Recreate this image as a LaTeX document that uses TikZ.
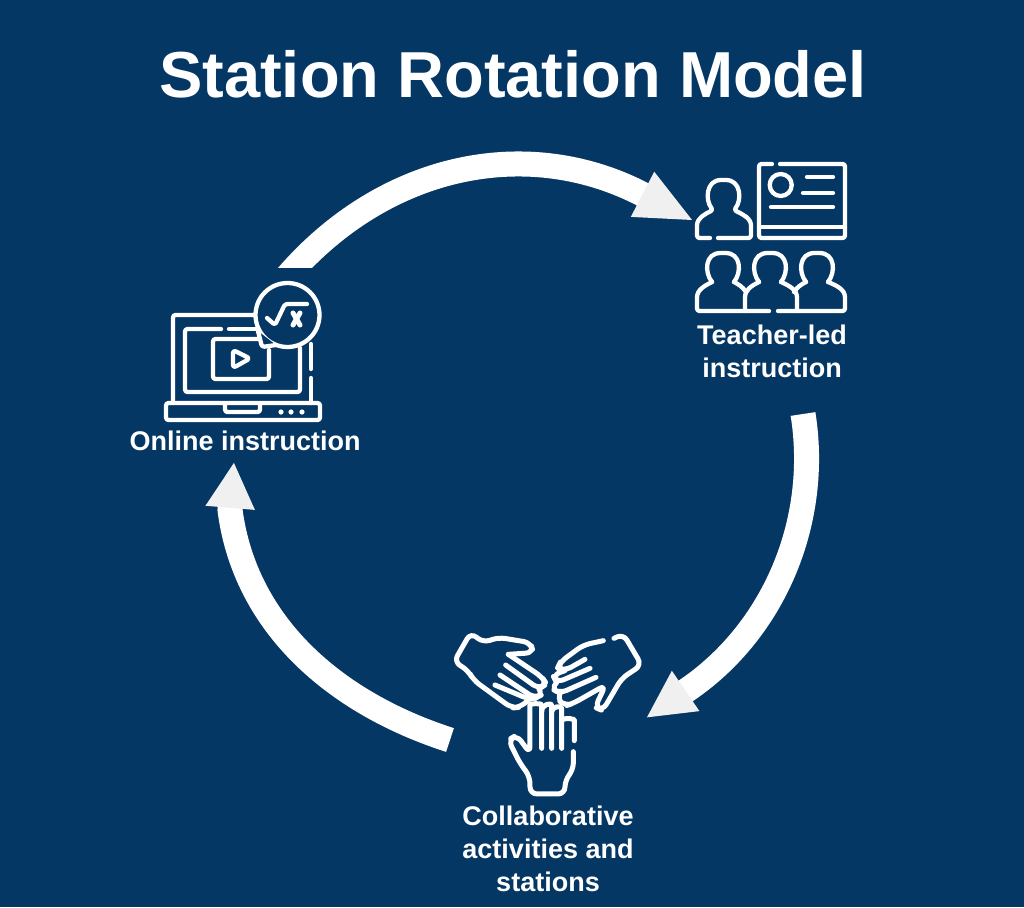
\documentclass[tikz,border=0pt]{standalone}
\usepackage{fontspec}
\setmainfont{Liberation Sans}
\usetikzlibrary{arrows.meta, positioning}
\definecolor{bgblue}{HTML}{053764}
\definecolor{tipgrey}{HTML}{F0F0F0}

\begin{document}
\begin{tikzpicture}[
    x=1pt, y=-1pt,
    stationlabel/.style={text=white, align=center, inner sep=0pt,
                  font=\bfseries\fontsize{27}{33}\selectfont},
    cycleline/.style={draw=white, line width=25pt},
    iconline/.style={draw=white, line width=4.3pt, rounded corners=2.5pt,
                  line cap=round, line join=round},
    handline/.style={iconline, line width=5pt, rounded corners=7pt}
]
\fill[bgblue] (0,0) rectangle (1024,907);
\node[text=white, inner sep=0pt, font=\bfseries\fontsize{65}{70}\selectfont] (title) at (513,74) {Station Rotation Model};
\node[stationlabel] (teacher) at (772,351) {Teacher-led\\instruction};
\node[stationlabel] (online) at (245,441) {Online instruction};
\node[stationlabel] (collab) at (548,849) {Collaborative\\activities and\\stations};

\coordinate (onlineout) at (285,279);
\coordinate (teacherbase) at (640,193);
\coordinate (teacherin) at (694,221);
\coordinate (teacherout) at (803,414);
\coordinate (collabbase) at (687,690);
\coordinate (collabin) at (646,718);
\coordinate (collabout) at (450,740);
\coordinate (onlinebase) at (230,510);
\coordinate (onlinein) at (234,462);

% the three arcs of the cycle
\begin{scope}
    \clip (0,0) rectangle (1024,267);
    \draw[cycleline, -{Triangle[length=58pt, width=46pt, color=tipgrey]}]
        (onlineout) .. controls (381,166) and (523,134) .. (teacherbase) -- (teacherin);
\end{scope}
\draw[cycleline, -{Triangle[length=48pt, width=45pt, color=tipgrey]}]
    (teacherout) .. controls (820,520) and (775,630) .. (collabbase) -- (collabin);
\draw[cycleline, -{Triangle[length=46pt, width=46pt, color=tipgrey]}]
    (collabout) .. controls (335,703) and (245,625) .. (onlinebase) -- (onlinein);

% laptop
\draw[iconline] (255,315) -- (173,315) -- (173,403);
\draw[iconline] (311,344) -- (311,369);
\draw[iconline] (311,378) -- (311,403);
\draw[iconline] (221,329) -- (185,329) -- (185,392) -- (300,392) -- (300,348);
\draw[iconline] (229,329) -- (257,329);
\draw[iconline] (260,339) -- (213,339) -- (213,379) -- (269,379) -- (269,350);
\draw[iconline, rounded corners=3pt] (233,350) -- (233,368) -- (250,358.5) -- cycle;
\draw[iconline] (166,403) rectangle (320,420);
\draw[iconline] (225,405) -- (225,412) -- (260,412) -- (260,405);
\foreach \x in {281,291,302} {
    \fill[white] (\x,412) circle (2.6);
}
% speech bubble with the root sign
\draw[iconline, fill=bgblue] (287.5,315) circle (32);
\draw[iconline, fill=bgblue] (258,331) -- (262,347) -- (276,345);
\draw[iconline] (267,318) -- (275,325) -- (285,304) -- (307,304);
\draw[iconline, line width=5pt] (293,313) -- (300,325);
\draw[iconline, line width=5pt] (300,313) -- (293,325);

% teacher and board
\draw[iconline] (710,238) -- (697,238) -- (697,228) .. controls (697,218) and (705,214) .. (713,210)
    .. controls (705,200) and (706,180) .. (723.5,180) .. controls (741,180) and (742,200) .. (734,210)
    .. controls (742,214) and (751,218) .. (751,228) -- (751,238) -- (718,238);
\draw[iconline] (772,164) -- (759,164) -- (759,238) -- (845,238) -- (845,164) -- (780,164);
\draw[iconline] (759,227) -- (845,227);
\draw[iconline] (780.7,185) circle (11);
\draw[iconline] (807,177) -- (833,177);
\draw[iconline] (803,193) -- (833,193);
\draw[iconline] (771,207) -- (833,207);

% students
\foreach \x in {723,770,817} {
    \draw[iconline] (\x-11,282) .. controls (\x-19,272) and (\x-18,253) .. (\x,253)
        .. controls (\x+18,253) and (\x+19,272) .. (\x+11,282);
}
\draw[iconline] (769,311) -- (697,311) -- (697,300) .. controls (697,290) and (704,286) .. (712,282);
\draw[iconline] (734,282) .. controls (738,284) and (743,287) .. (746,292);
\draw[iconline] (778,311) -- (845,311) -- (845,300) .. controls (845,290) and (838,286) .. (828,282);
\draw[iconline] (806,282) .. controls (802,284) and (797,287) .. (794,292);
\draw[iconline] (745,311) -- (745,300) .. controls (745,290) and (751,286) .. (759,282);
\draw[iconline] (797,311) -- (797,300) .. controls (797,290) and (790,286) .. (781,282);

\begin{scope}[shift={(440,620)}, x=0.3333pt, y=-0.3333pt]
% left hand
\draw[handline]
    (205,103) -- (280,98) -- (272,68) -- (175,52) -- (130,68) -- (92,38) -- (42,125) -- (85,152) -- (100,180) -- (215,264) -- (240,262) -- (268,238);
\draw[handline]
    (205,103) -- (305,170) -- (320,192) -- (297,207) -- (197,135);
\draw[handline]
    (297,207) -- (310,222) -- (285,235) -- (180,165);
\draw[handline]
    (165,195) -- (268,238) -- (285,235);
% right hand
\draw[handline]
    (490,62) -- (430,75) -- (362,125) -- (352,145) -- (375,152) -- (435,118);
\draw[handline]
    (375,152) -- (338,165) -- (350,188) -- (450,145);
\draw[handline]
    (350,188) -- (333,205) -- (360,220) -- (468,172);
\draw[handline]
    (360,220) -- (350,235) -- (375,258) -- (400,250) -- (497,195) -- (465,262) -- (488,272) -- (545,175) -- (605,135) -- (550,42) -- (522,55);
% lower hand
\draw[handline]
    (400,395) -- (400,450) -- (375,480) -- (375,522) -- (270,522) -- (270,470) -- (240,430) -- (205,360) -- (230,345) -- (270,400) -- (270,275)
    .. controls (270,250) and (305,250) .. (305,275) -- (305,385);
\draw[handline]
    (305,275) .. controls (305,250) and (335,250) .. (335,275) -- (335,385);
\draw[handline]
    (335,275) .. controls (335,258) and (365,258) .. (365,285) -- (365,385);
\draw[handline]
    (365,300) .. controls (385,290) and (403,300) .. (403,320) -- (403,362);
\end{scope}
\end{tikzpicture}
\end{document}
